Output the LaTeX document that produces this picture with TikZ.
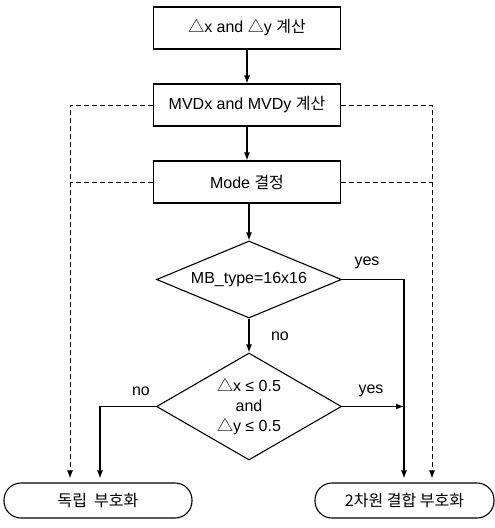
\documentclass[tikz,border=0pt]{standalone}
\usepackage{fontspec}
\setmainfont{Liberation Sans}
\newfontfamily\kr{Noto Sans CJK KR}
\usetikzlibrary{arrows.meta,shapes.geometric}
\newcommand{\tri}{{\kr △}}
\begin{document}
\begin{tikzpicture}[x=1pt,y=-1pt,
  font=\fontsize{16}{19}\selectfont,
  line width=1.1pt,
  arr/.style={-{Latex[length=8pt,width=6pt]}},
  procbox/.style={draw,fill=white,minimum width=187pt,minimum height=42pt,inner sep=0pt},
  decide/.style={draw,diamond,inner sep=0pt},
  term/.style={draw,rounded corners=17pt,minimum height=35pt,inner sep=0pt},
  dsh/.style={dash pattern=on 5pt off 3pt,line width=1pt},
  lbl/.style={inner sep=0pt}]
\useasboundingbox (0,0) rectangle (495,528);
% nodes
\node[procbox] (b1) at (247,28) {\tri x and \tri y {\kr 계산}};
\node[procbox] (b2) at (247,105) {MVDx and MVDy {\kr 계산}};
\node[procbox] (b3) at (247,182) {Mode {\kr 결정}};
\node[decide,minimum width=185pt,minimum height=77pt] (d1) at (249,279.5) {};
\node[lbl] at (d1.center) {MB\_type=16x16};
\node[decide,minimum width=185pt,minimum height=107pt] (d2) at (249,406.5) {};
\node[lbl,align=center,font=\fontsize{16}{20}\selectfont] at (d2.center) {\tri x ≤ 0.5\\and\\\tri y ≤ 0.5};
\node[term,minimum width=188pt] (t1) at (98,500.5) {\kr 독립\ \ 부호화};
\node[term,minimum width=179pt] (t2) at (404.5,500.5) {\kr 2차원\ 결합\ 부호화};
% coordinates
\coordinate (dl) at (70,105);
\coordinate (dr) at (432,105);
\coordinate (yr) at (404,279.5);
\coordinate (nl) at (100,406.5);
% solid connectors
\draw[arr] (b1.south) -- (b2.north);
\draw[arr] (b2.south) -- (b3.north);
\draw[arr] (b3.south -| d1.north) -- (d1.north);
\draw[arr] (d1.south) -- (d2.north);
\draw[arr,shorten >=4pt] (d1.east) -- (yr) -- (yr |- t2.north);
\draw[arr] (d2.east) -- (d2.east -| yr);
\draw[arr,shorten >=4pt] (d2.west) -- (nl) -- (nl |- t1.north);
% dashed connectors
\draw[dsh,arr,shorten >=4pt] (b2.west) -- (dl) -- (dl |- t1.north);
\draw[dsh,arr,shorten >=4pt] (b2.east) -- (dr) -- (dr |- t2.north);
\draw[dsh] (b3.west) -- (b3.west -| dl);
\draw[dsh] (b3.east) -- (b3.east -| dr);
% labels
\node[lbl] at (367,263) {yes};
\node[lbl] at (280,336) {no};
\node[lbl] at (371,391) {yes};
\node[lbl] at (141,391) {no};
\end{tikzpicture}
\end{document}
